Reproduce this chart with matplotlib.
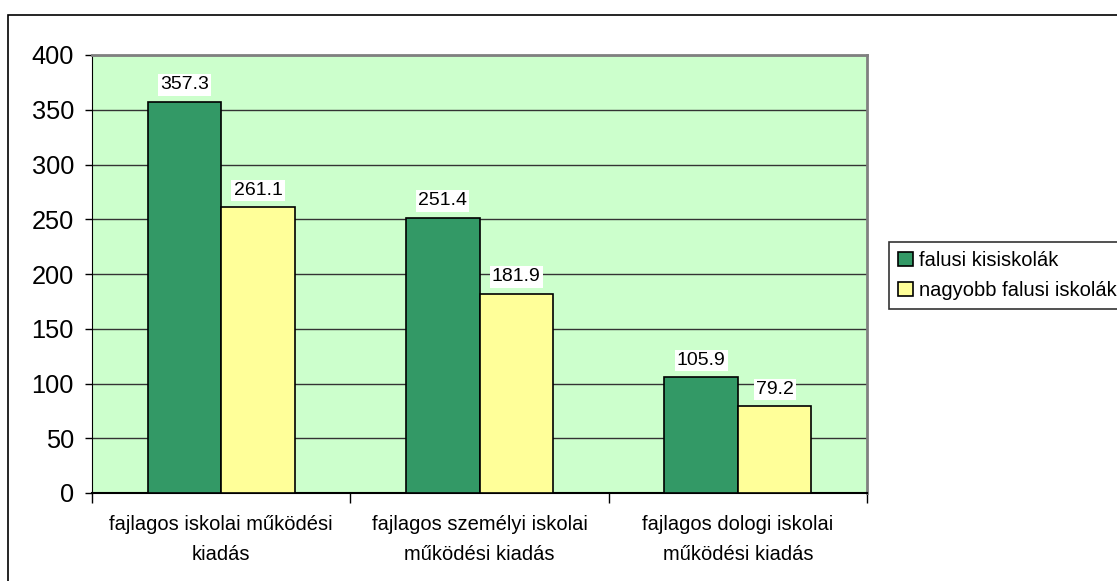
import matplotlib.pyplot as plt
import numpy as np
from matplotlib.patches import Rectangle

plt.rcParams["font.family"] = ["Liberation Sans", "DejaVu Sans"]

categories = [
    "fajlagos iskolai működési\nkiadás",
    "fajlagos személyi iskolai\nműködési kiadás",
    "fajlagos dologi iskolai\nműködési kiadás",
]
series_names = ["falusi kisiskolák", "nagyobb falusi iskolák"]
small_schools = [357.3, 251.4, 105.9]
larger_schools = [261.1, 181.9, 79.2]
yticks = [0, 50, 100, 150, 200, 250, 300, 350, 400]

colors = ["#339966", "#FFFF99"]

W, H = 1117, 581
fig = plt.figure(figsize=(W / 100, H / 100), dpi=100)

# outer chart border (cut off at right/bottom like the original)
fig.patches.append(Rectangle((8 / W, -0.1), 1.2, 1 - 15 / H + 0.1,
                             transform=fig.transFigure, fill=False,
                             edgecolor="black", linewidth=1.2))

ax = fig.add_axes([92 / W, 1 - 493 / H, (867 - 92) / W, (493 - 55) / H])
ax.set_facecolor("#CCFFCC")

x = np.arange(len(categories))
bw = 0.285
values = [small_schools, larger_schools]
bars = []
for i, vals in enumerate(values):
    offs = (i - 0.5) * bw
    b = ax.bar(x + offs, vals, bw, color=colors[i], edgecolor="black",
               linewidth=1.2, label=series_names[i], zorder=3)
    bars.append(b)
    for xi, v in zip(x + offs, vals):
        ax.annotate(f"{v:.1f}", (xi, v), xytext=(0, 6), textcoords="offset points",
                    ha="center", va="bottom", fontsize=14, zorder=4,
                    bbox=dict(facecolor="white", edgecolor="none", pad=1.5))

ax.set_xlim(-0.5, 2.5)
ax.set_ylim(0, 400)
ax.set_yticks(yticks)
ax.yaxis.grid(True, color="#333333", linewidth=1.0, zorder=1)
ax.set_axisbelow(True)
ax.tick_params(axis="y", labelsize=18.3, length=5, width=1, direction="out", pad=8)

ax.set_xticks(x)
ax.set_xticklabels(categories, fontsize=14.5, linespacing=1.72)
ax.set_xticks([-0.5, 0.5, 1.5, 2.5], minor=True)
ax.tick_params(axis="x", which="major", length=0, pad=16)
ax.tick_params(axis="x", which="minor", length=7, width=1, direction="out")

for side in ["top", "right"]:
    ax.spines[side].set_color("#808080")
    ax.spines[side].set_linewidth(2)
ax.spines["left"].set_color("black")
ax.spines["bottom"].set_color("black")
ax.spines["bottom"].set_linewidth(1.5)

leg = fig.legend(handles=bars, labels=series_names, loc="upper left",
                 bbox_to_anchor=(889 / W, 1 - 242 / H), fontsize=14.5,
                 frameon=True, fancybox=False, edgecolor="black",
                 handlelength=0.75, handleheight=0.75, handletextpad=0.3,
                 borderpad=0.45, labelspacing=0.55, borderaxespad=0)
leg.get_frame().set_linewidth(1.2)

fig.savefig("out.png", dpi=100)
